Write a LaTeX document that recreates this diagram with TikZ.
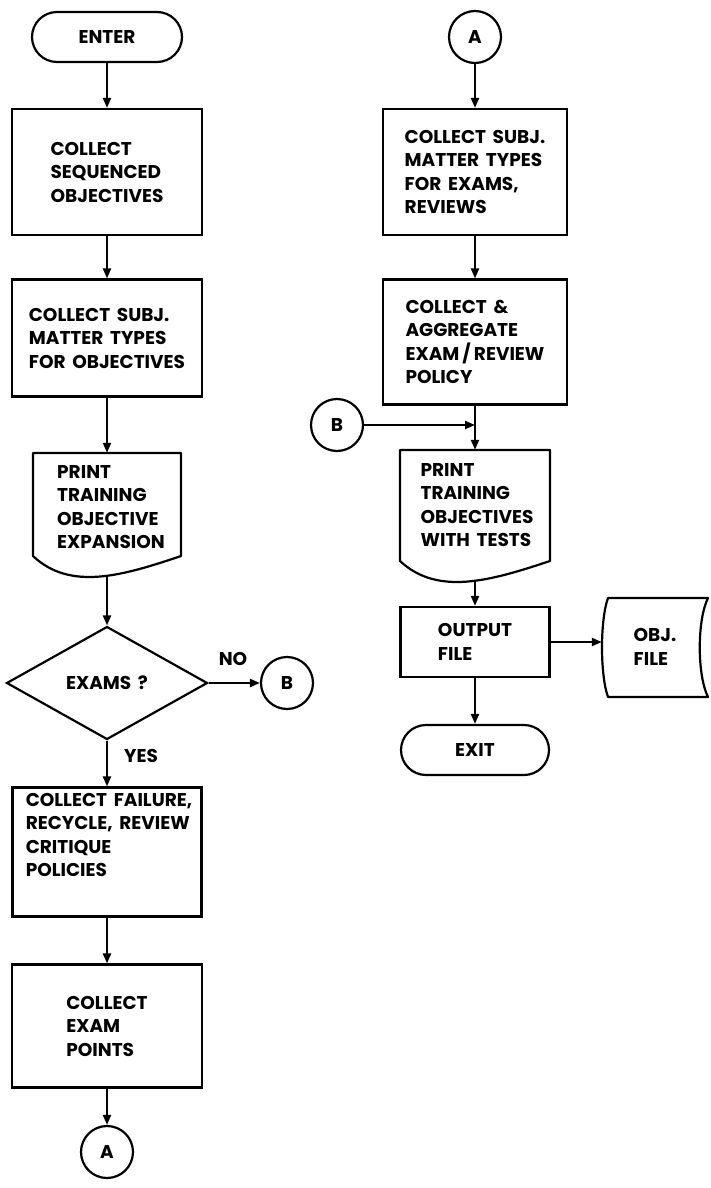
\documentclass[tikz,border=0pt]{standalone}
\usepackage{fontspec}
\setmainfont{Poppins}[WordSpace=1.7]
\usetikzlibrary{shapes.geometric,arrows.meta}
\newcommand\flowfont{\fontsize{18.5}{23.5}\selectfont\bfseries}
\begin{document}
\begin{tikzpicture}[x=1pt,y=-1pt,
  lw/.style={line width=2.2pt},
  txt/.style={font=\flowfont,align=left,inner sep=0pt},
  proc/.style={draw,lw,rectangle,txt},
  term/.style={draw,lw,rectangle,rounded corners=25pt,txt},
  conn/.style={draw,lw,circle,minimum size=52pt,txt},
  arr/.style={lw,-{Triangle[length=10pt,width=8pt]}}]
\fill[white] (0,0) rectangle (711,1188);
\useasboundingbox (0,0) rectangle (711,1188);
% left column
\node[term,minimum width=150pt,minimum height=50pt] (enter) at (107,37) {ENTER};
\node[proc,minimum width=190pt,minimum height=126pt] (b1) at (107,172) {COLLECT\\SEQUENCED\\OBJECTIVES};
\node[proc,minimum width=190pt,minimum height=117pt] (b2) at (107,338) {COLLECT SUBJ.\\MATTER TYPES\\FOR OBJECTIVES};
\node[minimum width=148pt,minimum height=124pt,inner sep=0pt] (doc1) at (107,515) {};
\draw[lw,line join=round] (33,556) -- (33,453) -- (181,453) -- (181,556) .. controls (122,576) and (70,591) .. (33,556) -- cycle;
\node[txt] (doc1t) at (111,507) {PRINT\\TRAINING\\OBJECTIVE\\EXPANSION};
\node[draw,lw,diamond,aspect=1.78,minimum width=201pt,minimum height=113pt,txt] (dia) at (107,683) {EXAMS ?};
\node[conn] (B1) at (287,683) {B};
\node[txt] (no) at (233,659) {NO};
\node[txt] (yes) at (141,756) {YES};
\node[draw,lw,rectangle,minimum width=189pt,minimum height=129pt] (b3) at (107,852) {};
\node[txt] (b3t) at (109,835) {COLLECT FAILURE,\\RECYCLE, REVIEW\\CRITIQUE\\POLICIES};
\node[proc,minimum width=190pt,minimum height=123pt] (b4) at (107,1026) {COLLECT\\EXAM\\POINTS};
\node[conn] (A1) at (107,1152) {A};
% right column
\node[conn] (A2) at (475,37) {A};
\node[proc,minimum width=184pt,minimum height=126pt] (b5) at (475,172) {COLLECT SUBJ.\\MATTER TYPES\\FOR EXAMS,\\REVIEWS};
\node[proc,minimum width=184pt,minimum height=125pt] (b6) at (475,342) {COLLECT \&\\AGGREGATE\\EXAM\,/\,REVIEW\\POLICY};
\node[conn] (B2) at (337,425) {B};
\coordinate (join) at (475,425);
\node[minimum width=150pt,minimum height=132pt,inner sep=0pt] (doc2) at (475,516) {};
\draw[lw,line join=round] (400,561) -- (400,450) -- (550,450) -- (550,561) .. controls (490,581) and (437.5,596) .. (400,561) -- cycle;
\node[txt] (doc2t) at (477,505) {PRINT\\TRAINING\\OBJECTIVES\\WITH TESTS};
\node[proc,minimum width=149pt,minimum height=70pt] (out) at (475,642) {OUTPUT\\FILE};
\node[term,minimum width=148pt,minimum height=50pt] (exit) at (475,750) {EXIT};
\node[minimum width=106pt,minimum height=99pt,inner sep=0pt,txt] (obj) at (655,647) {OBJ.\\FILE};
\draw[lw,line join=round] (608,598) -- (708,598) .. controls (697,620) and (697,675) .. (708,697) -- (608,697) .. controls (600,675) and (600,620) .. (608,598) -- cycle;
% connectors
\draw[arr] (enter) -- (b1);
\draw[arr] (b1) -- (b2);
\draw[arr] (b2) -- (doc1.north);
\draw[arr] (doc1.south) -- (dia.north);
\draw[arr] (dia.east) -- (B1.west);
\draw[arr] (dia.south) -- (b3.north);
\draw[arr] (b3) -- (b4);
\draw[arr] (b4) -- (A1);
\draw[arr] (A2) -- (b5);
\draw[arr] (b5) -- (b6);
\draw[arr] (b6.south) -- (doc2.north);
\draw[arr] (B2) -- (join);
\draw[arr] (doc2.south) -- (out.north);
\draw[arr] (out) -- (exit);
\draw[arr] (out.east) -- (out.east -| obj.west);
\end{tikzpicture}
\end{document}
